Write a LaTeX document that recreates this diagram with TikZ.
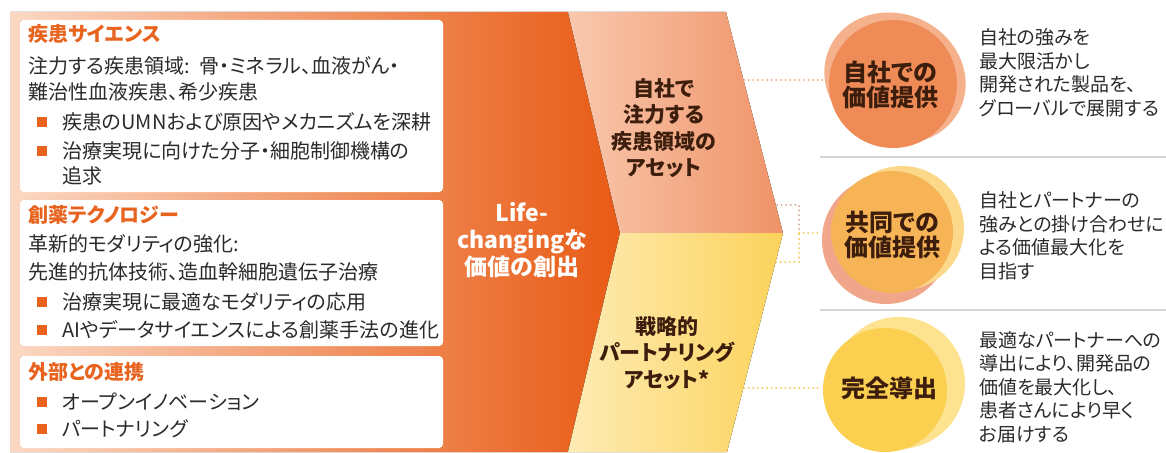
\documentclass[tikz,border=0pt]{standalone}
\usepackage{fontspec}
\setmainfont{Noto Sans CJK JP}[RawFeature=+palt]
\definecolor{bgL}{HTML}{FBD8C3}
\definecolor{bgR}{HTML}{E85A14}
\definecolor{pkL}{HTML}{F9C8AE}
\definecolor{pkR}{HTML}{EF9367}
\definecolor{ylL}{HTML}{FEEBB5}
\definecolor{ylR}{HTML}{FBD35B}
\definecolor{ttl}{HTML}{E8631E}
\definecolor{dk}{HTML}{3D1D0C}
\definecolor{bodyc}{HTML}{2B2B2B}
\definecolor{cAf}{HTML}{EF8B57}
\definecolor{cAb}{HTML}{F5B08C}
\definecolor{cBf}{HTML}{F7B456}
\definecolor{cBp}{HTML}{EFA68A}
\definecolor{cBy}{HTML}{FCD88A}
\definecolor{cCf}{HTML}{FBCF4F}
\definecolor{cCb}{HTML}{FDE38F}
\definecolor{dotO}{HTML}{F0A27A}
\definecolor{dotP}{HTML}{D9A08E}
\definecolor{dotY}{HTML}{F2C94C}
\definecolor{sep}{HTML}{D6D6D6}
\newcommand\sqb{\textcolor{ttl}{\rule[2.5pt]{10pt}{10pt}}\hspace{15pt}}
\begin{document}
\begin{tikzpicture}[x=1pt,y=-1pt,
  boxw/.style={fill=white, rounded corners=4pt},
  hd/.style={anchor=west, inner sep=0pt, text height=17pt, text depth=2pt, text=ttl, font=\fontsize{20}{24}\selectfont\bfseries},
  ln/.style={anchor=west, inner sep=0pt, text height=17pt, text depth=2pt, text=bodyc, font=\fontsize{20}{24}\selectfont},
  chev/.style={align=center, inner sep=0pt, text=dk, font=\fontsize{21}{26.5}\selectfont\bfseries},
  ctr/.style={align=center, inner sep=0pt, text=white, font=\fontsize{23}{27}\selectfont\bfseries},
  ctxt/.style={align=center, inner sep=0pt, text=dk, font=\fontsize{24}{25.5}\selectfont\bfseries},
  rtxt/.style={anchor=west, align=left, inner sep=0pt, text=bodyc, font=\fontsize{19}{23.5}\selectfont},
  blob/.style={circle, inner sep=0pt, minimum size=#1},
  dotline/.style={line width=2pt, dash pattern=on 0pt off 4.6pt, line cap=round},
  sepline/.style={draw=sep, line width=1.2pt}
]
\useasboundingbox (0,0) rectangle (1166,452);
\clip (0,0) rectangle (1166,452);
\fill[white] (0,0) rectangle (1166,452);

% big chevron pieces
\fill[left color=bgL, right color=bgR] (10,12) -- (568,12) -- (620,233) -- (568,452) -- (10,452) -- cycle;
\fill[left color=pkL, right color=pkR] (568,12) -- (726,12) -- (783,233) -- (620,233) -- cycle;
\fill[left color=ylL, right color=ylR] (620,233) -- (783,233) -- (727,452) -- (568,452) -- cycle;

% white boxes
\fill[boxw] (20,20) rectangle (443,192);
\fill[boxw] (20,200) rectangle (443,346);
\fill[boxw] (20,356) rectangle (443,448);

% box 1
\node[hd] (a0) at (28,34) {疾患サイエンス};
\node[ln] (a1) at (28,66) {注力する疾患領域:\hspace{10pt}骨・ミネラル、血液がん・};
\node[ln] (a2) at (28,92) {難治性血液疾患、希少疾患};
\node[ln] (a3) at (37,122) {\sqb 疾患のUMNおよび原因やメカニズムを深耕};
\node[ln] (a4) at (37,151) {\sqb 治療実現に向けた分子・細胞制御機構の};
\node[ln] (a5) at (62,176) {追求};

% box 2
\node[hd] (b0) at (28,215) {創薬テクノロジー};
\node[ln] (b1) at (28,244) {革新的モダリティの強化:};
\node[ln] (b2) at (28,272) {先進的抗体技術、造血幹細胞遺伝子治療};
\node[ln] (b3) at (37,302) {\sqb 治療実現に最適なモダリティの応用};
\node[ln] (b4) at (37,330) {\sqb AIやデータサイエンスによる創薬手法の進化};

% box 3
\node[hd] (d0) at (28,372) {外部との連携};
\node[ln] (d1) at (37,402) {\sqb オープンイノベーション};
\node[ln] (d2) at (37,429) {\sqb パートナリング};

% chevron texts
\node[ctr] (life) at (522,240) {Life-\\changingな\\価値の創出};
\node[chev] (own) at (664,128) {自社で\\注力する\\疾患領域の\\アセット};
\node[chev] (strat) at (667,353) {戦略的\\パートナリング\\アセット*};

% separators
\draw[sepline] (820,157) -- (1166,157);
\draw[sepline] (820,310) -- (1166,310);

% connectors
\coordinate (pk1) at (744,80);
\coordinate (pk2) at (777,205);
\coordinate (yl2) at (776,262);
\coordinate (yl3) at (744,388);
\coordinate (jn) at (799,233);
\coordinate (inA) at (823,80);
\coordinate (inB) at (821,233);
\coordinate (inC) at (822,388);
\draw[dotline, draw=dotO] (pk1) -- (inA);
\draw[dotline, draw=dotP] (pk2) -| (jn);
\draw[dotline, draw=dotY] (yl2) -| (jn);
\draw[dotline, draw=dotY] (jn) -- (inB);
\draw[dotline, draw=dotY] (yl3) -- (inC);

% circles
\fill[cAb, rotate around={-25:(895,78)}] (895,78) ellipse [x radius=72pt, y radius=64pt];
\node[blob=128pt, fill=cAf] (c1) at (893,84) {};
\fill[cBp] (886,240) circle (64pt);
\fill[cBy] (902,228) circle (62pt);
\node[blob=122pt, fill=cBf] (c2) at (892,232) {};
\fill[cCb] (899,383) circle (66pt);
\node[blob=124pt, fill=cCf] (c3) at (885,390) {};

\node[ctxt] (t1) at (890,85) {自社での\\価値提供};
\node[ctxt] (t2) at (892,235) {共同での\\価値提供};
\node[ctxt] (t3) at (889,388) {完全導出};

% right texts
\node[rtxt] (r1) at (979,73) {自社の強みを\\最大限活かし\\開発された製品を、\\グローバルで展開する};
\node[rtxt] (r2) at (979,236) {自社とパートナーの\\強みとの掛け合わせに\\よる価値最大化を\\目指す};
\node[rtxt] (r3) at (979,387) {最適なパートナーへの\\導出により、開発品の\\価値を最大化し、\\患者さんにより早く\\お届けする};
\end{tikzpicture}
\end{document}
